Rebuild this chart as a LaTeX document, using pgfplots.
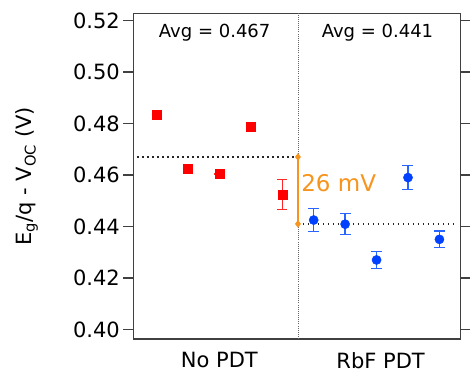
\documentclass[border=0pt]{standalone}
\usepackage{pgfplots}
\pgfplotsset{compat=1.18}
\usepackage{fontspec}
\setmainfont{DejaVu Sans}
\definecolor{myred}{RGB}{255,0,0}
\definecolor{myblue}{RGB}{0,64,255}
\definecolor{barblue}{RGB}{40,100,255}
\definecolor{myorange}{RGB}{247,148,29}
\definecolor{axgray}{RGB}{64,64,64}
\begin{document}
\begin{tikzpicture}
\path[use as bounding box] (0,0) rectangle (470pt,375pt);
\begin{axis}[
  at={(133.4pt,36pt)}, anchor=south west,
  scale only axis, width=327.4pt, height=325.7pt,
  xmin=0.265, xmax=10.68, ymin=0.3963, ymax=0.5228,
  ytick={0.40,0.42,0.44,0.46,0.48,0.50,0.52},
  yticklabel style={/pgf/number format/fixed, /pgf/number format/fixed zerofill, /pgf/number format/precision=2},
  /pgf/number format/assume math mode=true,
  tick align=outside, major tick length=10pt,
  ytick pos=both, yticklabel pos=left,
  xtick={3,8.13}, xticklabels={No PDT, RbF PDT},
  x tick style={draw=none},
  xticklabel style={yshift=-3pt, inner sep=0pt, anchor=north},
  axis line style={axgray, line width=1.3pt},
  y tick style={axgray, line width=1.2pt},
  ticklabel style={font=\fontsize{21}{25}\selectfont},
  ylabel={E\textsubscript{g}/q - V\textsubscript{OC} (V)},
  ylabel style={at={(axis description cs:-0.325,0.5)}, anchor=center, font=\fontsize{21}{25}\selectfont},
  clip=false,
]
% divider
\addplot[gray!80!black, line width=0.9pt, dash pattern=on 0.9pt off 1.2pt] coordinates {(5.5,0.3963) (5.5,0.5228)};
% averages
\addplot[black!85, line width=1.3pt, dash pattern=on 1.3pt off 3.7pt] coordinates {(0.39,0.467) (5.5,0.467)};
\addplot[black!85, line width=1.3pt, dash pattern=on 1.3pt off 3.7pt] coordinates {(5.5,0.441) (10.58,0.441)};
% difference
\addplot[myorange, line width=2.2pt, mark=diamond*, mark size=3.4pt, mark options={solid, line width=0.5pt}] coordinates {(5.5,0.467) (5.5,0.441)};
% No PDT
\addplot[only marks, mark=square*, mark size=4.5pt, color=myred,
  error bars/.cd, y dir=both, y explicit,
  error bar style={line width=1.3pt, myred!85},
  error mark options={rotate=90, mark size=5pt, line width=1.3pt, myred!85}]
  table[x=x, y=y, y error=e] {
  x y e
  1 0.4833 0
  2 0.4626 0
  3 0.4604 0
  4 0.4788 0.0012
  5 0.4525 0.0058
  };
% RbF PDT
\addplot[only marks, mark=*, mark size=4.6pt, color=myblue,
  error bars/.cd, y dir=both, y explicit,
  error bar style={line width=1.3pt, barblue},
  error mark options={rotate=90, mark size=5.5pt, line width=1.3pt, barblue}]
  table[x=x, y=y, y error=e] {
  x y e
  6 0.4425 0.0045
  7 0.4409 0.0041
  8 0.4270 0.0032
  9 0.4590 0.0046
  10 0.4350 0.0032
  };
\node[font=\fontsize{18}{22}\selectfont] at (axis cs:2.85,0.5151) {Avg = 0.467};
\node[font=\fontsize{18}{22}\selectfont] at (axis cs:8.03,0.5151) {Avg = 0.441};
\node[font=\fontsize{23}{27}\selectfont, text=myorange, anchor=west, inner sep=0pt] at (axis cs:5.6,0.4568) {26 mV};
\end{axis}
\end{tikzpicture}
\end{document}
